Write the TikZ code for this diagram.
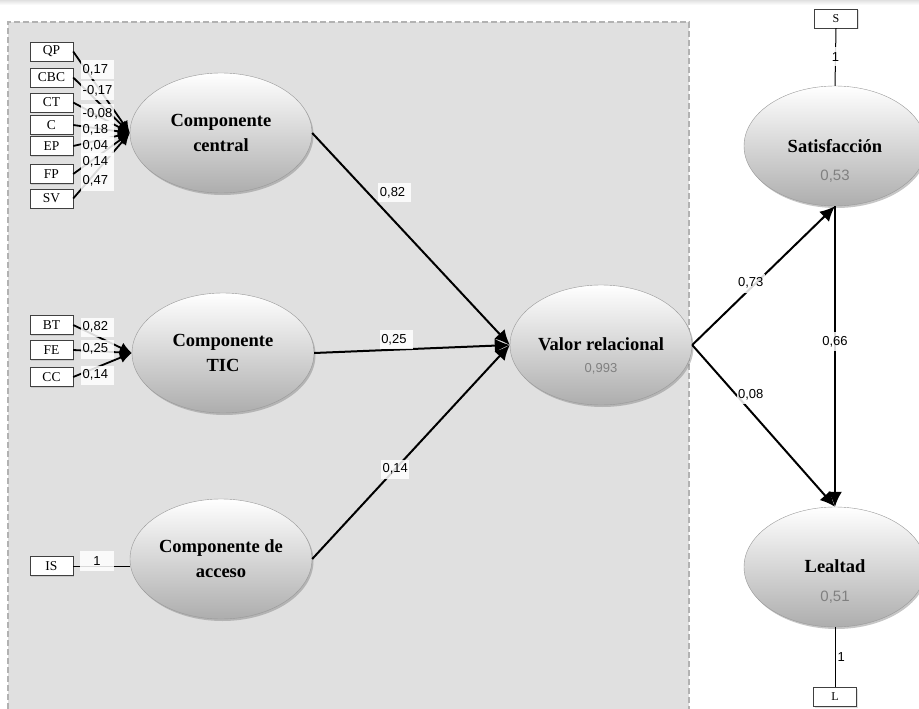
\documentclass[tikz,border=0pt]{standalone}
\usepackage{fontspec}
\setmainfont{Liberation Serif}
\newfontfamily\numfont{Liberation Sans}
\usetikzlibrary{arrows.meta,shapes.geometric,shadows}

\begin{document}
\begin{tikzpicture}[x=1pt,y=-1pt,
	latent/.style={ellipse, draw=black!40, top color=white, bottom color=black!32, minimum width=182pt, minimum height=120pt, inner sep=0pt, align=center, drop shadow={shadow xshift=1.5pt, shadow yshift=-2pt, opacity=0.45}, font=\fontsize{18.5}{25}\selectfont\bfseries},
	indic/.style={rectangle, draw=black!75, fill=white, minimum width=43pt, minimum height=19pt, inner sep=0pt, drop shadow={shadow xshift=1pt, shadow yshift=-1pt, opacity=0.25}, font=\fontsize{13.5}{14}\selectfont},
	coef/.style={fill=white, fill opacity=0.85, text opacity=1, inner sep=1.5pt, minimum height=19pt, font=\numfont\fontsize{13}{14}\selectfont},
	wcoef/.style={coef, text width=30pt, align=left},
	rel/.style={line width=2pt, -{Latex[length=15pt,width=14pt]}},
	load/.style={line width=1.8pt, -{Latex[length=12pt,width=11pt]}}]
		\useasboundingbox (0,0) rectangle (919,709);
		\shade[top color=black!12, bottom color=white] (0,0) rectangle (919,5);
		% ===== Grey panel (formative part) =====
		\fill[black!12] (8,22) rectangle (689,709);
		\draw[black!30, line width=1.5pt, dash pattern=on 6pt off 3pt] (8,709) -- (8,22) -- (689,22) -- (689,709);
		% ===== Latent variables =====
		\node[latent] (central) at (221,133) {Componente\\central};
		\node[latent] (tic) at (223,353) {Componente\\TIC};
		\node[latent] (acceso) at (221,559) {Componente de\\acceso};
		\node[latent] (valor) at (601,345) {};
		\node[latent] (satis) at (835,146) {};
		\node[latent] (lealtad) at (835,567) {};
		% names and R2 inside the ellipses
		\node[anchor=base, font=\fontsize{18.5}{25}\selectfont\bfseries] (valorname) at (601,350) {Valor relacional};
		\node[anchor=base, text=black!50, font=\numfont\fontsize{13}{14}\selectfont] (valorR) at (601,372) {0,993};
		\node[anchor=base, font=\fontsize{18.5}{25}\selectfont\bfseries] (satisname) at (835,152) {Satisfacción};
		\node[anchor=base, text=black!50, font=\numfont\fontsize{15}{16}\selectfont] (satisR) at (835,180) {0,53};
		\node[anchor=base, font=\fontsize{18.5}{25}\selectfont\bfseries] (lealtadname) at (835,572) {Lealtad};
		\node[anchor=base, text=black!50, font=\numfont\fontsize{15}{16}\selectfont] (lealtadR) at (835,601) {0,51};
		% ===== Indicators: Componente central =====
		\foreach \lab/\y in {QP/51.5, CBC/77.5, CT/102.5, C/125, EP/146, FP/174, SV/198.5} {
			\node[indic] (\lab) at (51.5,\y) {\lab};
			\draw[load] (\lab.east) -- (central.west);
		}
		\foreach \lab/\y/\w in {QP/70/{0,17}, CBC/91/{-0,17}, CT/114/{-0,08}, C/130/{0,18}, EP/146/{0,04}, FP/162/{0,14}, SV/181/{0,47}} {
			\node[wcoef, anchor=west] (w\lab) at (81,\y) {\w};
		}
		% ===== Indicators: Componente TIC =====
		\foreach \lab/\y in {BT/325, FE/350, CC/377} {
			\node[indic] (\lab) at (51.5,\y) {\lab};
			\draw[load] (\lab.east) -- (tic.west);
		}
		\foreach \lab/\y/\w in {BT/327/{0,82}, FE/349/{0,25}, CC/375/{0,14}} {
			\node[wcoef, anchor=west] (w\lab) at (81,\y) {\w};
		}
		% ===== Indicator: Componente de acceso =====
		\node[indic] (IS) at (51.5,566) {IS};
		\draw[line width=1pt] (IS.east) -- (acceso.west |- IS.east)
			node[coef, pos=0.42, minimum width=34pt, minimum height=20pt, yshift=5pt] {1};
		% ===== Structural paths =====
		\draw[rel] (central.east) -- (valor.west) node[wcoef, pos=0.33, anchor=south west] {0,82};
		\draw[rel] (tic.east) -- (valor.west) node[wcoef, pos=0.33, anchor=south west] {0,25};
		\draw[rel] (acceso.east) -- (valor.west) node[coef, pos=0.42] {0,14};
		\draw[rel] (valor.east) -- (satis.south) node[coef, pos=0.41, yshift=5pt] {0,73};
		\draw[rel] (valor.east) -- (lealtad.north) node[coef, pos=0.41, anchor=south, yshift=6pt] {0,08};
		\draw[rel] (satis.south) -- (lealtad.north) node[coef, pos=0.45] {0,66};
		% ===== Single indicators S and L =====
		\node[indic, font=\fontsize{12}{13}\selectfont] (S) at (836,18.5) {S};
		\node[indic, font=\fontsize{12}{13}\selectfont] (L) at (835,697) {L};
		\draw[line width=1pt] (S.south) -- (satis.north) node[coef, midway, font=\numfont\fontsize{13}{14}\selectfont] {1};
		\draw[line width=1pt] (lealtad.south) -- (L.north) node[midway, right, inner sep=2pt, font=\numfont\fontsize{13}{14}\selectfont] {1};
	\end{tikzpicture}
\end{document}
